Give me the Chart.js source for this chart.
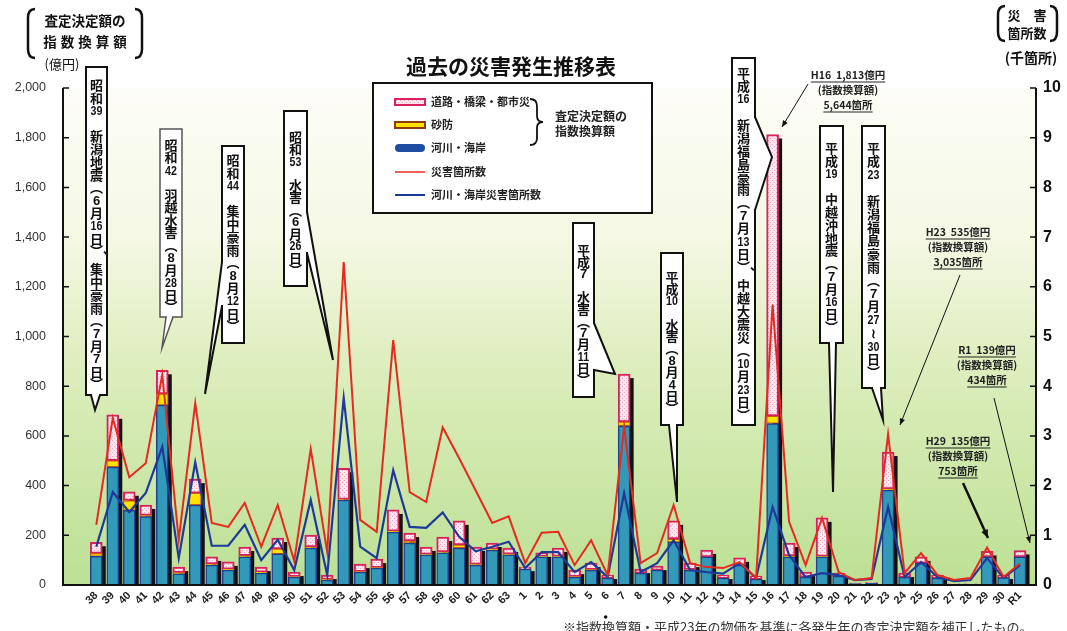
<!DOCTYPE html>
<html lang="ja">
<head>
<meta charset="utf-8">
<title>過去の災害発生推移表</title>
<script src="https://cdn.jsdelivr.net/npm/chart.js@4.4.1/dist/chart.umd.min.js"></script>
<style>
html,body{margin:0;padding:0;background:#fff;}
#wrap{position:relative;width:1067px;height:631px;}
</style>
</head>
<body>
<div id="wrap"><canvas id="c" width="1067" height="631"></canvas></div>
<script>
// 年次ラベル（昭和38〜63、平成1〜30、令和1）
const yearLabels = ['38','39','40','41','42','43','44','45','46','47','48','49','50','51','52','53','54','55','56','57','58','59','60','61','62','63',
  '1','2','3','4','5','6','7','8','9','10','11','12','13','14','15','16','17','18','19','20','21','22','23','24','25','26','27','28','29','30','R1'];

// 査定決定額の指数換算額（億円）
const riverCost = [115,475,300,275,724,45,322,80,60,113, 48,125,32,149,20,342,52,68,213,169, 121,129,149,80,141,121,
  64,113,113,32,60,28,640,48,60,173, 60,113,28,80,24,650,113,32,113,36, 6,8,382,32,88,28,4,4,113,30, 113];
const saboCost = [12,25,40,5,45,5,48,5,4,5, 4,20,2,4,2,2,2,2,4,8, 2,4,12,3,3,3,
  0,2,2,2,2,0,16,0,0,12, 2,0,0,0,0,30,4,0,2,0, 0,0,5,0,0,0,0,0,0,0, 0];
const roadCost = [45,185,35,42,95,22,56,28,29,35, 20,44,18,48,18,126,30,34,85,32, 30,60,97,70,25,25,
  8,14,34,26,26,12,193,16,16,73, 26,28,12,29,12,1133,52,20,155,12, 2,2,148,16,25,12,1,1,22,10, 26];

// 災害箇所数（千箇所）
const disasterSites = [1.21,3.36,2.17,2.45,4.23,0.91,3.66,1.25,1.17,1.65, 0.77,1.61,0.48,2.74,0.66,6.50,1.31,1.07,4.93,1.87, 1.67,3.17,2.55,1.90,1.25,1.38,
  0.44,1.05,1.07,0.40,0.90,0.20,3.18,0.44,0.64,1.61, 0.44,0.36,0.34,0.46,0.14,5.644,1.27,0.40,1.35,0.26, 0.10,0.14,3.035,0.24,0.64,0.20,0.10,0.14,0.753,0.16, 0.434];
const riverSites = [0.77,1.87,1.47,1.85,2.78,0.54,2.47,0.79,0.79,1.21, 0.50,0.91,0.30,1.71,0.20,3.76,0.77,0.54,2.31,1.17, 1.15,1.46,0.97,0.68,0.77,0.87,
  0.34,0.66,0.66,0.26,0.46,0.16,1.85,0.26,0.44,0.90, 0.30,0.26,0.23,0.44,0.14,1.57,0.60,0.16,0.24,0.20, 0.10,0.12,1.57,0.16,0.46,0.16,0.08,0.10,0.54,0.14, 0.40];

const JP = '"Noto Sans CJK JP", "Noto Sans", sans-serif';
const NUM = '"Liberation Sans", Arial, sans-serif';

const totalCost = i => riverCost[i] + saboCost[i] + roadCost[i];
const fmt = v => Math.round(v).toLocaleString('en-US');

// 吹き出し（縦書き）
const callouts = [
  {x:86, y:67, w:21, h:328, cy:85, step:12.8, text:['昭','和','39','','新','潟','地','震','︵','6','月','16','日','︶','、','集','中','豪','雨','︵','7','月','7','日','︶'], tail:[[91,395],[95,410],[100,395]]},
  {x:160, y:129, w:22, h:188, cy:145, step:12.5, thin:true, text:['昭','和','42','','羽','越','水','害','︵','8','月','28','日','︶'], tail:[[166,317],[162,348],[173,317]]},
  {x:222, y:146, w:22, h:197, cy:160, step:12.8, text:['昭','和','44','','集','中','豪','雨','︵','8','月','12','日','︶'], tail:[[222,262],[205,394],[222,306]]},
  {x:284, y:111, w:23, h:175, cy:137, step:12.1, text:['昭','和','53','','水','害','︵','6','月','26','日','︶'], tail:[[307,212],[333,360],[307,253]]},
  {x:573, y:223, w:21, h:174, cy:250, step:11.8, text:['平','成','7','','水','害','︵','7','月','11','日','︶'], tail:[[594,323],[615,374],[594,370]]},
  {x:661, y:253, w:22, h:172, cy:277, step:11.9, text:['平','成','10','','水','害','︵','8','月','4','日','︶'], tail:[[669,425],[677,502],[677,425]]},
  {x:732, y:58, w:23, h:367, cy:73, step:12.95, text:['平','成','16','','新','潟','福','島','豪','雨','︵','7','月','13','日','︶','、','中','越','大','震','災','︵','10','月','23','日','︶'], tail:[[755,117],[772,157],[755,210]]},
  {x:820, y:126, w:23, h:217, cy:148, step:12.8, text:['平','成','19','','中','越','沖','地','震','︵','7','月','16','日','︶'], tail:[[829,343],[833,492],[836,343]]},
  {x:862, y:126, w:23, h:262, cy:148, step:13.2, text:['平','成','23','','新','潟','福','島','豪','雨','︵','7','月','27','≀','30','日','︶'], tail:[[872,388],[883,420],[881,388]]}
];

// 数値注記（年・指数換算額・箇所数）
const notes = [
  {idx:41, era:'H16', cx:848, y:75, arrow:[808,84,782,127], w:1, head:7},
  {idx:48, era:'H23', cx:958, y:232, arrow:[960,275,900,425], w:1, head:7},
  {idx:54, era:'H29', cx:958, y:441, arrow:[963,483,988,538], w:2.5, head:9},
  {idx:56, era:'R1', cx:987, y:350, arrow:[994,398,1030,543], w:1, head:7}
];

function makeHatch(mainCtx){
  const c = document.createElement('canvas'); c.width = 4; c.height = 4;
  const g = c.getContext('2d');
  g.fillStyle = '#fde8ef'; g.fillRect(0,0,4,4);
  g.fillStyle = '#f0a2bd'; g.fillRect(0,0,1,1); g.fillRect(2,2,1,1);
  return mainCtx.createPattern(c, 'repeat');
}

function arrow(ctx, x1, y1, x2, y2, w, h){
  ctx.lineWidth = w;
  ctx.beginPath(); ctx.moveTo(x1,y1); ctx.lineTo(x2,y2); ctx.stroke();
  const a = Math.atan2(y2-y1, x2-x1);
  ctx.beginPath();
  ctx.moveTo(x2,y2);
  ctx.lineTo(x2 - h*Math.cos(a-0.4), y2 - h*Math.sin(a-0.4));
  ctx.lineTo(x2 - h*Math.cos(a+0.4), y2 - h*Math.sin(a+0.4));
  ctx.closePath(); ctx.fill();
}

function paren(ctx, x, y1, y2, dir){
  ctx.beginPath();
  ctx.moveTo(x + dir*7, y1);
  ctx.quadraticCurveTo(x, y1, x, y1 + 9);
  ctx.lineTo(x, y2 - 9);
  ctx.quadraticCurveTo(x, y2, x + dir*7, y2);
  ctx.stroke();
}

function underlined(ctx, text, cx, y){
  ctx.fillText(text, cx, y);
  const w = ctx.measureText(text).width;
  ctx.beginPath(); ctx.lineWidth = 1;
  ctx.moveTo(cx - w/2, y + 7); ctx.lineTo(cx + w/2, y + 7); ctx.stroke();
}

function drawCallout(ctx, c){
  const [t0, t1, t2] = c.tail;
  ctx.save();
  ctx.fillStyle = '#fff';
  ctx.strokeStyle = c.thin ? '#555' : '#111';
  ctx.lineWidth = c.thin ? 1.5 : 2;
  ctx.beginPath(); ctx.moveTo(t0[0],t0[1]); ctx.lineTo(t1[0],t1[1]); ctx.lineTo(t2[0],t2[1]); ctx.closePath(); ctx.fill();
  ctx.fillRect(c.x, c.y, c.w, c.h);
  ctx.strokeRect(c.x, c.y, c.w, c.h);
  // 吹き出しの付け根を開く
  if (t0[1] === t2[1]) ctx.fillRect(Math.min(t0[0],t2[0]) + 1, t0[1] - 1.6, Math.abs(t2[0]-t0[0]) - 2, 3.2);
  else ctx.fillRect(t0[0] - 1.6, Math.min(t0[1],t2[1]) + 1, 3.2, Math.abs(t2[1]-t0[1]) - 2);
  ctx.beginPath(); ctx.moveTo(t0[0],t0[1]); ctx.lineTo(t1[0],t1[1]); ctx.lineTo(t2[0],t2[1]); ctx.stroke();

  ctx.fillStyle = '#111'; ctx.textAlign = 'center'; ctx.textBaseline = 'middle';
  const cx = c.x + c.w/2;
  let y = c.cy;
  c.text.forEach(t => {
    if (t === '') { y += c.step; return; }
    if (t === '、') { ctx.font = `bold 13px ${JP}`; ctx.fillText('︑', cx + 5, y - c.step*0.55); y += c.step*0.4; return; }
    if (/^[0-9]+$/.test(t)) {
      ctx.font = `bold 13px ${NUM}`;
      ctx.save(); ctx.translate(cx, y); ctx.scale(t.length > 1 ? 0.82 : 1, 1); ctx.fillText(t, 0, 1); ctx.restore();
    } else {
      ctx.font = `bold 13px ${JP}`;
      ctx.fillText(t, cx, y);
    }
    y += c.step;
  });
  ctx.restore();
}

const bgPlugin = {
  id: 'bgFill',
  beforeDraw(chart){
    const {ctx, chartArea: a} = chart;
    ctx.save();
    ctx.fillStyle = '#fff'; ctx.fillRect(0, 0, chart.width, chart.height);
    const g = ctx.createLinearGradient(0, a.top, 0, a.bottom);
    g.addColorStop(0, '#fdfdf7');
    g.addColorStop(0.3, '#f5f8e4');
    g.addColorStop(0.55, '#deeebe');
    g.addColorStop(1, '#bce094');
    ctx.fillStyle = g;
    ctx.fillRect(a.left, a.top, a.right - a.left, a.bottom - a.top);
    ctx.restore();
  }
};

// 棒の右側の影
const shadowPlugin = {
  id: 'barShadow',
  beforeDatasetsDraw(chart){
    const {ctx, scales:{x, y}} = chart;
    ctx.save(); ctx.fillStyle = '#111';
    yearLabels.forEach((_, i) => {
      const px = x.getPixelForValue(i);
      const top = y.getPixelForValue(totalCost(i));
      const base = y.getPixelForValue(0);
      const h = Math.max(0, base - top - 4);
      if (h > 0) ctx.fillRect(px, top + 4, 9.5, h);
    });
    ctx.restore();
  }
};

const overlayPlugin = {
  id: 'overlay',
  afterDatasetsDraw(chart){
    const {ctx, chartArea: a, scales:{x, y, y2}} = chart;
    ctx.save();
    // 軸線と目盛り
    ctx.strokeStyle = '#111'; ctx.lineWidth = 2;
    ctx.beginPath();
    ctx.moveTo(a.left, a.top); ctx.lineTo(a.left, a.bottom);
    ctx.moveTo(a.left - 1, a.bottom); ctx.lineTo(a.right + 1, a.bottom);
    ctx.moveTo(a.right, a.top); ctx.lineTo(a.right, a.bottom);
    ctx.stroke();
    ctx.lineWidth = 1.5;
    ctx.beginPath();
    y.ticks.forEach(t => { const py = y.getPixelForValue(t.value); ctx.moveTo(a.left, py); ctx.lineTo(a.left + 6, py); });
    y2.ticks.forEach(t => { const py = y2.getPixelForValue(t.value); ctx.moveTo(a.right, py); ctx.lineTo(a.right - 6, py); });
    ctx.stroke();

    // 平成6の点
    ctx.fillStyle = '#111';
    ctx.beginPath(); ctx.arc(x.getPixelForValue(yearLabels.indexOf('6', 26)) - 2, 617, 1.8, 0, Math.PI*2); ctx.fill();

    callouts.forEach(c => drawCallout(ctx, c));

    // 数値注記
    ctx.fillStyle = '#222'; ctx.strokeStyle = '#222';
    ctx.textAlign = 'center'; ctx.textBaseline = 'middle';
    notes.forEach(n => {
      ctx.font = `bold 10.5px ${JP}`;
      underlined(ctx, `${n.era}  ${fmt(totalCost(n.idx))}億円`, n.cx, n.y);
      ctx.fillText('(指数換算額)', n.cx, n.y + 15);
      underlined(ctx, `${fmt(disasterSites[n.idx]*1000)}箇所`, n.cx, n.y + 30);
      ctx.fillStyle = '#111'; ctx.strokeStyle = '#111';
      arrow(ctx, ...n.arrow, n.w, n.head);
      ctx.fillStyle = '#222'; ctx.strokeStyle = '#222';
    });

    // 凡例
    ctx.fillStyle = '#fff'; ctx.strokeStyle = '#111'; ctx.lineWidth = 2;
    ctx.fillRect(373, 83, 279, 130); ctx.strokeRect(373, 83, 279, 130);
    const sx = 395, sw = 30;
    ctx.fillStyle = hatch; ctx.strokeStyle = '#d8225c'; ctx.lineWidth = 2;
    ctx.fillRect(sx, 99, sw, 6); ctx.strokeRect(sx, 99, sw, 6);
    ctx.fillStyle = '#ffe200'; ctx.strokeStyle = '#8a3c12';
    ctx.fillRect(sx, 122, sw, 6); ctx.strokeRect(sx, 122, sw, 6);
    ctx.fillStyle = '#1f4ea0';
    ctx.beginPath(); ctx.roundRect(sx, 144, sw, 8, 4); ctx.fill();
    ctx.strokeStyle = '#e52b20'; ctx.lineWidth = 1.5;
    ctx.beginPath(); ctx.moveTo(sx, 172); ctx.lineTo(sx + sw, 172); ctx.stroke();
    ctx.strokeStyle = '#1d3a98'; ctx.lineWidth = 2;
    ctx.beginPath(); ctx.moveTo(sx, 195); ctx.lineTo(sx + sw, 195); ctx.stroke();
    ctx.fillStyle = '#222'; ctx.textAlign = 'left'; ctx.font = `bold 11px ${JP}`;
    const legendNames = chart.data.datasets.map(d => d.label);
    ctx.fillText(legendNames[4], 431, 102);
    ctx.fillText(legendNames[3], 431, 125);
    ctx.fillText(legendNames[2], 431, 148);
    ctx.fillText(legendNames[0], 431, 172);
    ctx.fillText(legendNames[1], 431, 195);
    // 中括弧
    ctx.strokeStyle = '#111'; ctx.lineWidth = 1.8;
    ctx.beginPath();
    ctx.moveTo(530, 99); ctx.quadraticCurveTo(537, 99, 537, 106); ctx.lineTo(537, 116);
    ctx.quadraticCurveTo(537, 122, 543, 122); ctx.quadraticCurveTo(537, 122, 537, 128);
    ctx.lineTo(537, 138); ctx.quadraticCurveTo(537, 145, 530, 145);
    ctx.stroke();
    ctx.font = `bold 12px ${JP}`;
    ctx.fillText('査定決定額の', 555, 116);
    ctx.fillText('指数換算額', 555, 131);
    ctx.restore();
  },
  afterDraw(chart){
    const ctx = chart.ctx;
    ctx.save();
    ctx.fillStyle = '#111'; ctx.strokeStyle = '#111';
    ctx.textBaseline = 'middle'; ctx.textAlign = 'center';
    // 表題
    ctx.font = `bold 21px ${JP}`;
    ctx.fillText('過去の災害発生推移表', 511, 66);
    // 左軸の見出し
    ctx.lineWidth = 2.5;
    paren(ctx, 28, 9, 58, 1); paren(ctx, 142, 9, 58, -1);
    ctx.font = `bold 13.5px ${JP}`;
    ctx.fillText('査定決定額の', 85, 21);
    [...'指数換算額'].forEach((ch, i) => ctx.fillText(ch, 50 + i*17.5, 42));
    ctx.font = `13px ${JP}`;
    ctx.fillText('(億円)', 62, 64);
    // 右軸の見出し
    paren(ctx, 998, 6, 41, 1); paren(ctx, 1057, 6, 41, -1);
    ctx.font = `bold 13px ${JP}`;
    ctx.fillText('災　害', 1027, 15);
    ctx.fillText('箇所数', 1027, 33);
    ctx.font = `bold 14px ${JP}`;
    ctx.fillText('(千箇所)', 1031, 58);
    // 注記
    ctx.textAlign = 'left'; ctx.font = `13px ${JP}`; ctx.fillStyle = '#333';
    ctx.fillText('※指数換算額・平成23年の物価を基準に各発生年の査定決定額を補正したもの。', 563, 627);
    ctx.restore();
  }
};

const canvas = document.getElementById('c');
const mainCtx = canvas.getContext('2d');
const hatch = makeHatch(mainCtx);
const toXY = arr => arr.map((v, i) => ({x: i, y: v}));

new Chart(mainCtx, {
  data: {
    datasets: [
      {type:'line', label:'災害箇所数', data: toXY(disasterSites), yAxisID:'y2', borderColor:'#e52b20', borderWidth:2, pointRadius:0, tension:0, order:0},
      {type:'line', label:'河川・海岸災害箇所数', data: toXY(riverSites), yAxisID:'y2', borderColor:'#1d3a98', borderWidth:2.2, pointRadius:0, tension:0, order:1},
      {type:'bar', label:'河川・海岸', data: toXY(riverCost), yAxisID:'y', backgroundColor:'#3399b9', borderColor:'#1f3f8f', borderWidth:1.5, barThickness:12, order:2},
      {type:'bar', label:'砂防', data: toXY(saboCost), yAxisID:'y', backgroundColor:'#ffe200', borderColor:'#c85a18', borderWidth:1.2, borderSkipped:false, barThickness:12, order:2},
      {type:'bar', label:'道路・橋梁・都市災', data: toXY(roadCost), yAxisID:'y', backgroundColor: hatch, borderColor:'#d8225c', borderWidth:2, borderSkipped:false, barThickness:12, order:2}
    ]
  },
  options: {
    responsive: false,
    animation: false,
    layout: {padding: {top: 88, left: 0, right: 0, bottom: 0}},
    plugins: {legend: {display: false}, tooltip: {enabled: false}},
    scales: {
      x: {
        type: 'linear', min: -1.5, max: 56.45, stacked: true,
        grid: {display: false, drawTicks: false}, border: {display: false},
        afterBuildTicks: s => { s.ticks = yearLabels.map((_, i) => ({value: i})); },
        afterFit: s => { s.height = 46; },
        ticks: {autoSkip: false, minRotation: 45, maxRotation: 45, padding: 4, color: '#222',
          font: {family: NUM, size: 11, weight: 'bold'},
          callback: v => yearLabels[v]}
      },
      y: {
        position: 'left', min: 0, max: 2000, stacked: true,
        grid: {display: false, drawTicks: false}, border: {display: false},
        afterFit: s => { s.width = 63; },
        ticks: {stepSize: 200, padding: 17, color: '#333', font: {family: NUM, size: 12.5},
          callback: v => v.toLocaleString('en-US')}
      },
      y2: {
        position: 'right', min: 0, max: 10,
        grid: {display: false, drawTicks: false}, border: {display: false},
        afterFit: s => { s.width = 31; },
        ticks: {stepSize: 1, padding: 7, color: '#111', font: {family: NUM, size: 16, weight: 'bold'}}
      }
    }
  },
  plugins: [bgPlugin, shadowPlugin, overlayPlugin]
});
</script>
</body>
</html>
